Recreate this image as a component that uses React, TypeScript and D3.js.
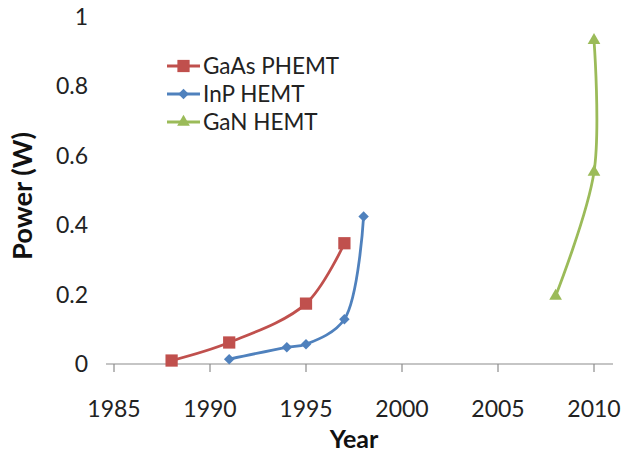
import React, { useRef, useEffect } from 'react';
import * as d3 from 'd3';

const gaasYears = [1988, 1991, 1995, 1997];
const gaasPower = [0.01, 0.062, 0.174, 0.348];
const inpYears = [1991, 1994, 1995, 1997, 1998];
const inpPower = [0.014, 0.048, 0.057, 0.129, 0.425];
const ganYears = [2008, 2010, 2010];
const ganPower = [0.196, 0.553, 0.933];

const xTicks = [1985, 1990, 1995, 2000, 2005, 2010];
const yTicks = [0, 0.2, 0.4, 0.6, 0.8, 1];

const seriesNames = ['GaAs PHEMT', 'InP HEMT', 'GaN HEMT'];
const COLORS = ['#c0504d', '#4f81bd', '#9bbb59'];

const width = 621;
const height = 455;
const FONT = 'Lato, "Open Sans", sans-serif';

export default function App() {
    const svgRef = useRef<SVGSVGElement>(null);

    useEffect(() => {
        const svg = d3.select(svgRef.current);
        svg.selectAll('*').remove();

        const series = [
            { name: seriesNames[0], values: gaasYears.map((y, i) => ({ year: y, value: gaasPower[i] })), symbol: d3.symbolSquare, size: 150 },
            { name: seriesNames[1], values: inpYears.map((y, i) => ({ year: y, value: inpPower[i] })), symbol: d3.symbolDiamond2, size: 70 },
            { name: seriesNames[2], values: ganYears.map((y, i) => ({ year: y, value: ganPower[i] })), symbol: d3.symbolTriangle, size: 70 },
        ];

        const x = d3.scaleLinear().domain([1985, 2010]).range([114, 594]);
        const y = d3.scaleLinear().domain([0, 1]).range([364, 17]);

        // x axis line + ticks
        const ax = svg.append('g').attr('stroke', '#8c8c8c').attr('stroke-width', 1.2);
        ax.append('line')
            .attr('x1', x(1985) - 8).attr('x2', 613)
            .attr('y1', y(0)).attr('y2', y(0));
        ax.selectAll('.tk')
            .data(xTicks)
            .join('line')
            .attr('x1', d => x(d)).attr('x2', d => x(d))
            .attr('y1', y(0)).attr('y2', y(0) + 8);

        svg.append('g')
            .selectAll('text')
            .data(xTicks)
            .join('text')
            .attr('x', d => x(d))
            .attr('y', 417)
            .attr('text-anchor', 'middle')
            .attr('font-size', 23)
            .attr('font-family', FONT)
            .attr('fill', '#222')
            .text(d => String(d));

        svg.append('g')
            .selectAll('text')
            .data(yTicks)
            .join('text')
            .attr('x', 88)
            .attr('y', d => y(d))
            .attr('dy', '0.35em')
            .attr('text-anchor', 'end')
            .attr('font-size', 23)
            .attr('font-family', FONT)
            .attr('fill', '#222')
            .text(d => (d === 0 || d === 1 ? String(d) : d.toFixed(1)));

        // axis titles
        svg.append('text')
            .attr('transform', 'translate(32,196) rotate(-90)')
            .attr('text-anchor', 'middle')
            .attr('font-size', 26)
            .attr('font-weight', 'bold')
            .attr('font-family', FONT)
            .attr('fill', '#111')
            .attr('textLength', 128)
            .attr('lengthAdjust', 'spacingAndGlyphs')
            .text('Power (W)');

        svg.append('text')
            .attr('x', 354)
            .attr('y', 448)
            .attr('text-anchor', 'middle')
            .attr('font-size', 25)
            .attr('font-weight', 'bold')
            .attr('font-family', FONT)
            .attr('fill', '#111')
            .text('Year');

        const line = d3.line<{ year: number; value: number }>()
            .x(d => x(d.year))
            .y(d => y(d.value))
            .curve(d3.curveCatmullRom.alpha(0.5));

        series.forEach((s, i) => {
            const color = COLORS[i];
            svg.append('path')
                .datum(s.values)
                .attr('fill', 'none')
                .attr('stroke', color)
                .attr('stroke-width', 2.8)
                .attr('d', line);

            const sym = d3.symbol().type(s.symbol).size(s.size);
            svg.append('g')
                .selectAll('path')
                .data(s.values)
                .join('path')
                .attr('transform', d => `translate(${x(d.year)},${y(d.value)})`)
                .attr('d', sym)
                .attr('fill', color);

            // legend
            const ly = 66 + i * 28;
            svg.append('line')
                .attr('x1', 167).attr('x2', 200)
                .attr('y1', ly).attr('y2', ly)
                .attr('stroke', color)
                .attr('stroke-width', 2.8);
            svg.append('path')
                .attr('transform', `translate(183.5,${ly})`)
                .attr('d', sym)
                .attr('fill', color);
            svg.append('text')
                .attr('x', 203)
                .attr('y', ly)
                .attr('dy', '0.35em')
                .attr('font-size', 22.5)
                .attr('font-family', FONT)
                .attr('fill', '#222')
                .text(s.name);
        });
    }, []);

    return (
        <svg
            ref={svgRef}
            width={width}
            height={height}
            style={{ position: 'absolute', left: 0, top: 0, background: '#fff' }}
        />
    );
}
